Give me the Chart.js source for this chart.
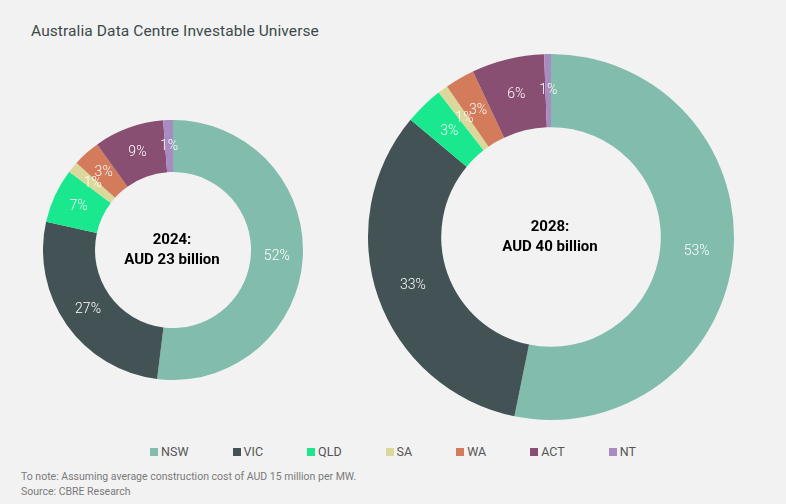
<!DOCTYPE html>
<html>
<head>
<meta charset="utf-8">
<script src="https://cdn.jsdelivr.net/npm/chart.js@4/dist/chart.umd.min.js"></script>
<style>
  html, body { margin: 0; padding: 0; }
  body { width: 786px; height: 504px; background: #f2f2f2; position: relative; overflow: hidden; font-family: Roboto, "Noto Sans", sans-serif; }
  #title { position: absolute; left: 31px; top: 22px; font-size: 15.5px; font-weight: 400; color: #3d4949; white-space: nowrap; letter-spacing: 0.1px; }
  #c1wrap { position: absolute; left: 43px; top: 120px; width: 260px; height: 260px; }
  #c2wrap { position: absolute; left: 368px; top: 54px; width: 366px; height: 366px; }
  #legend { position: absolute; left: 0; top: 444px; width: 786px; display: flex; justify-content: center; font-size: 12.5px; color: #555; }
  .item { display: flex; align-items: center; margin: 0 22px; white-space: nowrap; }
  .box { width: 8px; height: 8px; margin-right: 3px; }
  #note { position: absolute; left: 21px; top: 469px; font-size: 10.5px; line-height: 15px; color: #7a7a7a; white-space: nowrap; }
</style>
</head>
<body>
<div id="title">Australia Data Centre Investable Universe</div>
<div id="c1wrap"><canvas id="c1" width="260" height="260"></canvas></div>
<div id="c2wrap"><canvas id="c2" width="366" height="366"></canvas></div>
<div id="legend"></div>
<div id="note">To note: Assuming average construction cost of AUD 15 million per MW.<br>Source: CBRE Research</div>
<script>
// ---- data ----
const categories = ["NSW", "VIC", "QLD", "SA", "WA", "ACT", "NT"];
const colors = ["#82bcad", "#435254", "#1ae88f", "#dbd89b", "#d37b5a", "#884f72", "#a78bc1"];
const share2024 = [51.9, 26.5, 6.8, 1.4, 3.4, 8.7, 1.2];
const share2028 = [53.1, 32.8, 3.4, 0.9, 2.6, 6.4, 0.6];
const center2024 = ["2024:", "AUD 23 billion"];
const center2028 = ["2028:", "AUD 40 billion"];

// legend
const leg = document.getElementById('legend');
categories.forEach((c, i) => {
  const it = document.createElement('div'); it.className = 'item';
  const b = document.createElement('div'); b.className = 'box'; b.style.background = colors[i];
  const t = document.createElement('span'); t.textContent = c;
  it.appendChild(b); it.appendChild(t); leg.appendChild(it);
});

const labelPlugin = {
  id: 'sliceLabels',
  afterDatasetsDraw(chart, args, opts) {
    const ctx = chart.ctx;
    const meta = chart.getDatasetMeta(0);
    const data = chart.data.datasets[0].data;
    const total = data.reduce((a, b) => a + b, 0);
    ctx.save();
    ctx.fillStyle = '#ffffff';
    ctx.font = '300 14px Roboto, "Noto Sans", sans-serif';
    ctx.textAlign = 'center';
    ctx.textBaseline = 'middle';
    meta.data.forEach((arc, i) => {
      const p = arc.tooltipPosition();
      ctx.fillText(Math.round(data[i] / total * 100) + '%', p.x, p.y);
    });
    // center text
    const lines = opts.lines || [];
    const cx = (chart.chartArea.left + chart.chartArea.right) / 2;
    const cy = (chart.chartArea.top + chart.chartArea.bottom) / 2;
    ctx.fillStyle = '#000000';
    ctx.font = 'bold 15px Roboto, "Noto Sans", sans-serif';
    ctx.fillText(lines[0], cx - 1, cy - 10);
    ctx.fillText(lines[1], cx - 1, cy + 10);
    ctx.restore();
  }
};

function makeChart(id, values, lines) {
  return new Chart(document.getElementById(id), {
    type: 'doughnut',
    data: {
      labels: categories,
      datasets: [{ data: values, backgroundColor: colors, borderWidth: 0 }]
    },
    options: {
      responsive: false,
      animation: false,
      cutout: '60%',
      layout: { padding: 0 },
      plugins: {
        legend: { display: false },
        tooltip: { enabled: false },
        sliceLabels: { lines: lines }
      }
    },
    plugins: [labelPlugin]
  });
}
makeChart('c1', share2024, center2024);
makeChart('c2', share2028, center2028);
</script>
</body>
</html>
